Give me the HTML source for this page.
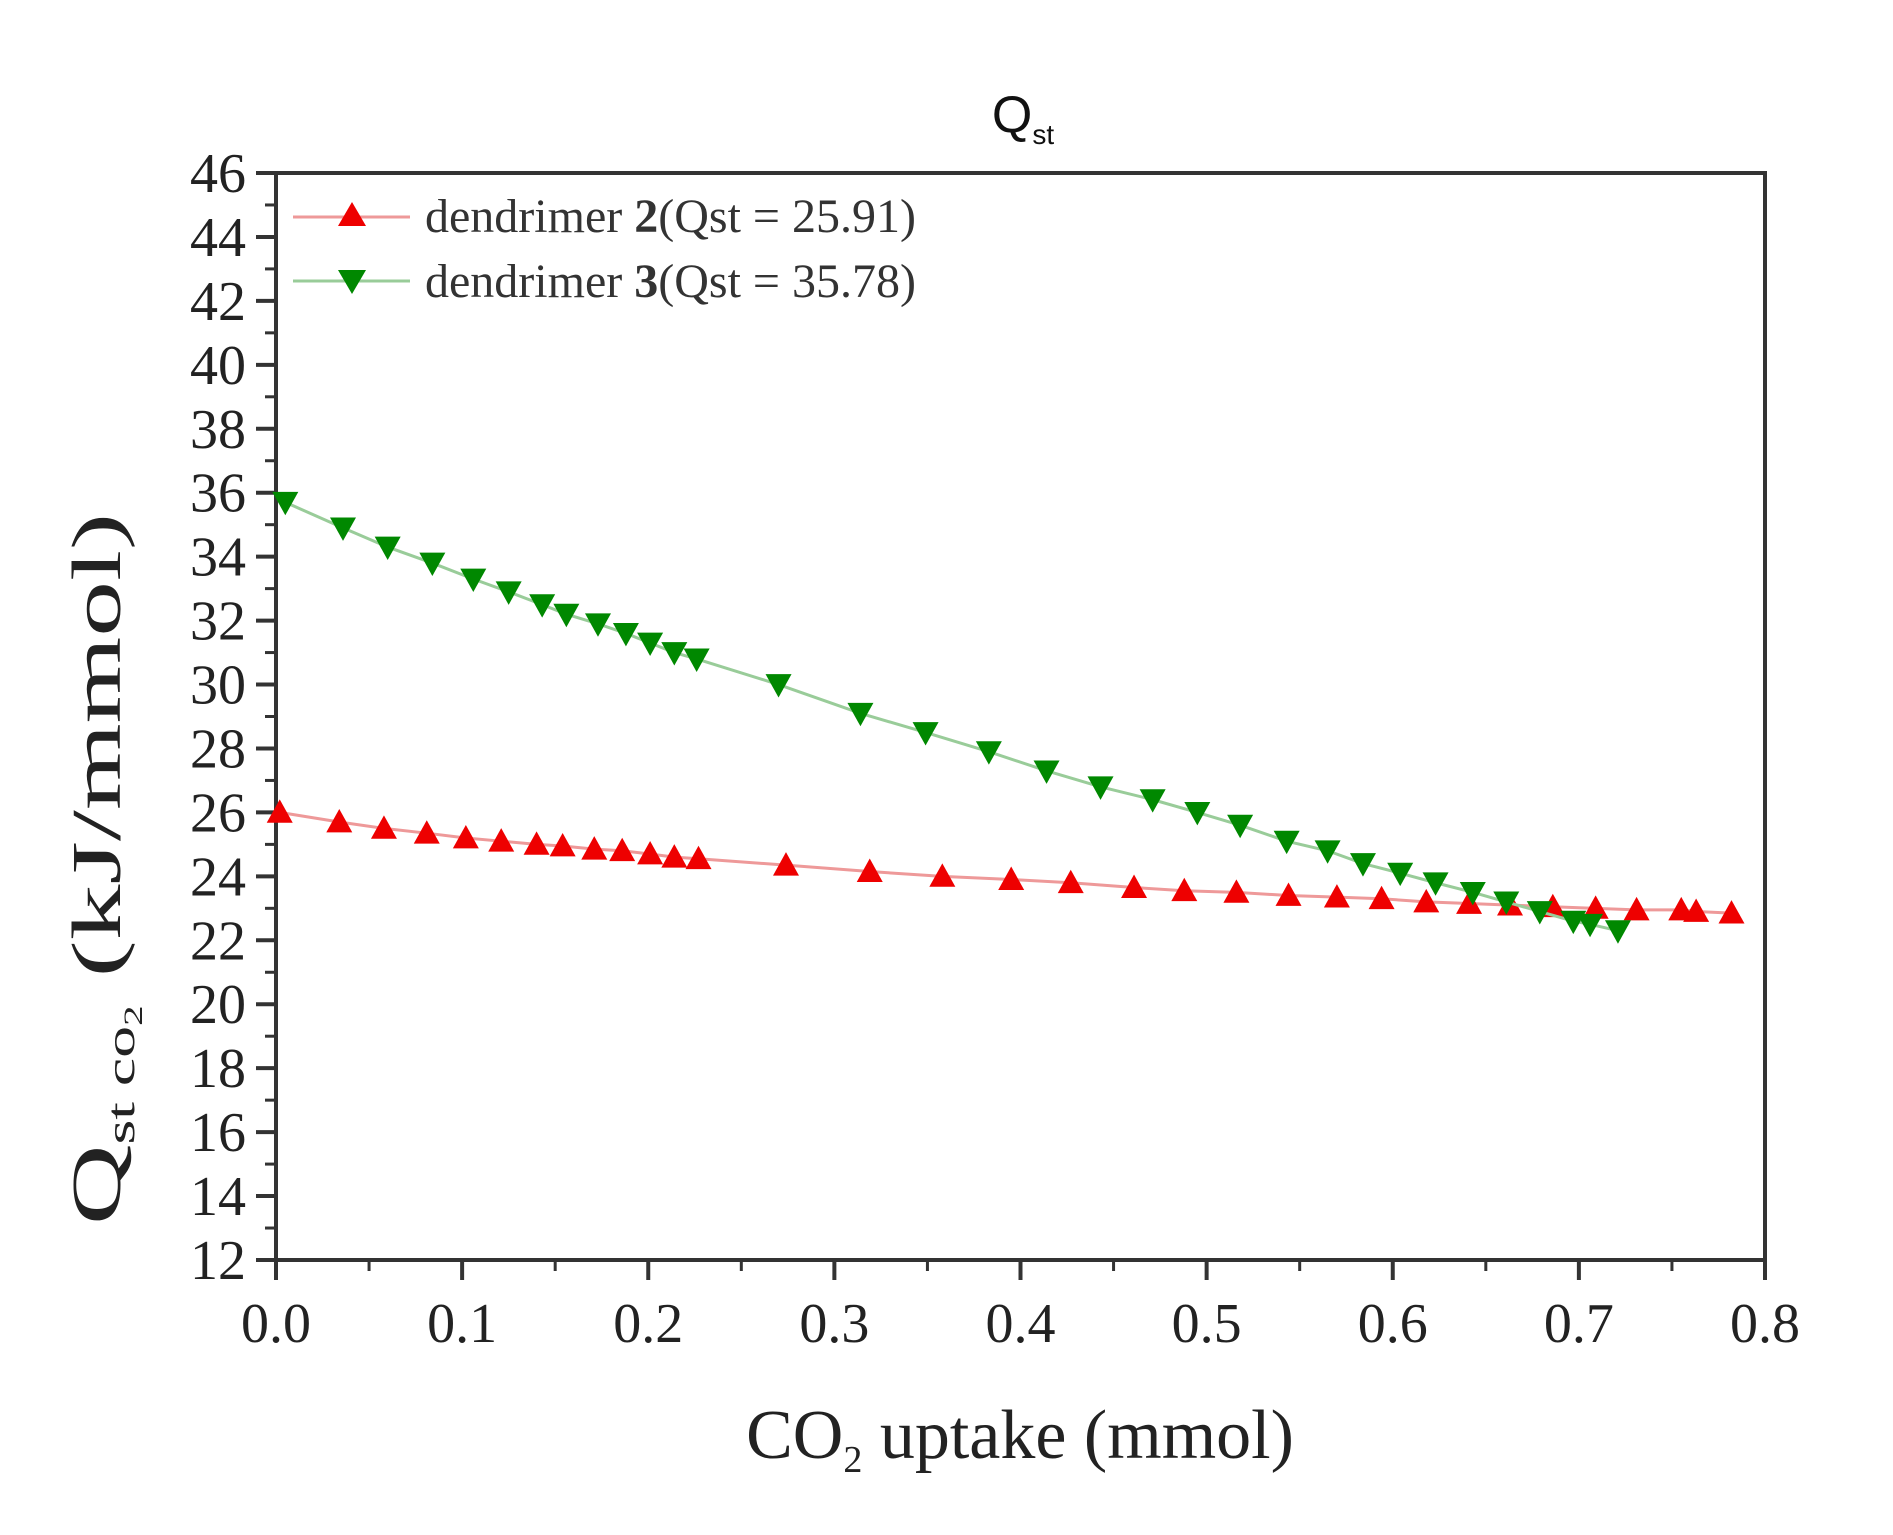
<!DOCTYPE html>
<html><head><meta charset="utf-8"><style>
html,body{margin:0;padding:0;background:#fff;}
svg{display:block;}
</style></head><body>
<svg id="chart" width="1893" height="1535" xmlns="http://www.w3.org/2000/svg">
<g id="grid"></g>
<text x="1023" y="132" text-anchor="middle" font-family="Liberation Sans, sans-serif" font-size="52" fill="#111">Q<tspan font-size="28" dy="12">st</tspan></text>
<text x="1020" y="1458" text-anchor="middle" font-family="Liberation Serif, serif" font-size="70" fill="#222">CO<tspan font-size="38" dy="14">2</tspan><tspan dy="-14"> uptake (mmol)</tspan></text>
<text transform="translate(120,869) rotate(-90)" text-anchor="middle" font-family="Liberation Serif, serif" font-size="70" fill="#222" textLength="712" lengthAdjust="spacingAndGlyphs">Q<tspan font-size="40" dy="14">st co</tspan><tspan font-size="26" dy="8">2</tspan><tspan dy="-22"> (kJ/mmol)</tspan></text>
<g id="legend">
<line x1="293" y1="217" x2="410" y2="217" stroke="#e99" stroke-width="3"/>
<polygon points="352,202 366,226 338,226" fill="#e00"/>
<text x="425" y="232" font-family="Liberation Serif, serif" font-size="48" fill="#333">dendrimer <tspan font-weight="bold">2</tspan>(Qst = 25.91)</text>
<line x1="293" y1="281" x2="410" y2="281" stroke="#9c9" stroke-width="3"/>
<polygon points="338,270 366,270 352,294" fill="#080"/>
<text x="425" y="297" font-family="Liberation Serif, serif" font-size="48" fill="#333">dendrimer <tspan font-weight="bold">3</tspan>(Qst = 35.78)</text>
</g>
<g id="series"></g>
</svg>
<script>
const xTicks=[0.0,0.1,0.2,0.3,0.4,0.5,0.6,0.7,0.8];
const xTickLabels=["0.0","0.1","0.2","0.3","0.4","0.5","0.6","0.7","0.8"];
const yTicks=[12,14,16,18,20,22,24,26,28,30,32,34,36,38,40,42,44,46];
const d2X=[0.002,0.034,0.058,0.081,0.102,0.121,0.140,0.154,0.171,0.186,0.201,0.214,0.227,0.274,0.319,0.358,0.395,0.427,0.461,0.488,0.516,0.544,0.570,0.594,0.618,0.641,0.663,0.686,0.709,0.731,0.755,0.763,0.782];
const d2Y=[26.0,25.7,25.5,25.35,25.2,25.1,25.0,24.95,24.85,24.8,24.7,24.6,24.55,24.35,24.15,24.0,23.9,23.8,23.65,23.55,23.5,23.4,23.35,23.3,23.2,23.15,23.1,23.05,23.0,22.95,22.95,22.9,22.85];
const d3X=[0.005,0.036,0.060,0.084,0.106,0.125,0.143,0.156,0.173,0.188,0.201,0.214,0.226,0.270,0.314,0.349,0.383,0.414,0.443,0.471,0.495,0.518,0.543,0.565,0.584,0.604,0.623,0.643,0.661,0.679,0.697,0.706,0.721];
const d3Y=[35.7,34.9,34.3,33.8,33.3,32.9,32.5,32.2,31.9,31.6,31.3,31.0,30.8,30.0,29.1,28.5,27.9,27.3,26.8,26.4,26.0,25.6,25.1,24.8,24.4,24.1,23.8,23.5,23.2,22.9,22.6,22.5,22.3];

const L=276,R=1765,T=173,B=1260,XMIN=0,XMAX=0.8,YMIN=12,YMAX=46;
const sx=v=>L+(v-XMIN)/(XMAX-XMIN)*(R-L);
const sy=v=>B-(v-YMIN)/(YMAX-YMIN)*(B-T);
const NS="http://www.w3.org/2000/svg";
function mk(tag,attrs,parent){const e=document.createElementNS(NS,tag);for(const k in attrs)e.setAttribute(k,attrs[k]);parent.appendChild(e);return e;}
const g=document.getElementById('grid');
const frame=mk('rect',{x:L,y:T,width:R-L,height:B-T,fill:'none',stroke:'#333','stroke-width':4},g);


yTicks.forEach((v,i)=>{
  const y=sy(v);
  const t=mk('line',{x1:L-20,x2:L,y1:y,y2:y,stroke:'#333','stroke-width':4},g);
  
  
  if(i<yTicks.length-1){const m=mk('line',{x1:L-11,x2:L,y1:sy(v+1),y2:sy(v+1),stroke:'#333','stroke-width':3},g);
  
  }
  const tx=mk('text',{x:L-30,y:y+19,'text-anchor':'end','font-family':'Liberation Serif, serif','font-size':56,fill:'#222'},g);
  tx.textContent=String(v);
  
  
});
xTicks.forEach((v,i)=>{
  const x=sx(v);
  const t=mk('line',{x1:x,x2:x,y1:B,y2:B+20,stroke:'#333','stroke-width':4},g);
  
  
  if(i<xTicks.length-1){const m=mk('line',{x1:sx(v+0.05),x2:sx(v+0.05),y1:B,y2:B+11,stroke:'#333','stroke-width':3},g);
  
  }
  const tx=mk('text',{x:x,y:B+82,'text-anchor':'middle','font-family':'Liberation Serif, serif','font-size':56,fill:'#222'},g);
  tx.textContent=xTickLabels[i];
  
  
});
const s=document.getElementById('series');
function series(xs,ys,lineCol,fill,up,name){
  const pts=xs.map((x,i)=>sx(x)+','+sy(ys[i])).join(' ');
  const pl=mk('polyline',{points:pts,fill:'none',stroke:lineCol,'stroke-width':3},s);
  
  
  xs.forEach((x,i)=>{
    const cx=sx(x),cy=sy(ys[i]),h=13;
    const p=up?`${cx},${cy-h} ${cx+h},${cy+h*0.8} ${cx-h},${cy+h*0.8}`:`${cx-h},${cy-h*0.8} ${cx+h},${cy-h*0.8} ${cx},${cy+h}`;
    const m=mk('polygon',{points:p,fill:fill},s);
    
    
  });
}
series(d2X,d2Y,'#e99','#e00',true,'dendrimer-2');
series(d3X,d3Y,'#9c9','#080',false,'dendrimer-3');
</script>
</body></html>
